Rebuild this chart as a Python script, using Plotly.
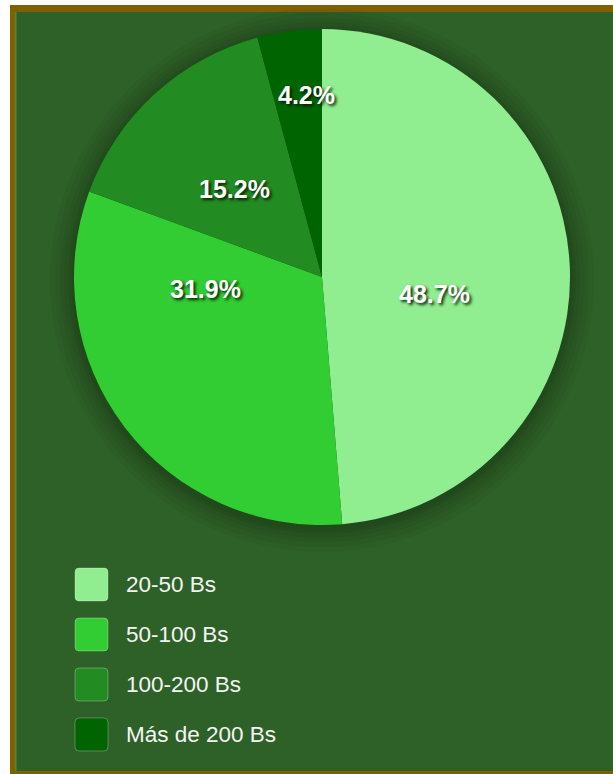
import math
import plotly.graph_objects as go

# Price ranges and their share of the total (percent)
categories = ["20-50 Bs", "50-100 Bs", "100-200 Bs", "Más de 200 Bs"]
shares = [48.7, 31.9, 15.2, 4.2]
colors = ["#90EE90", "#32CD32", "#228B22", "#006400"]

# Label placement per slice: angular nudge from the slice middle (deg) and radius fraction
label_nudge_deg = [10.9, 31.4, -2.2, 2.6]
label_radius_frac = [0.457, 0.474, 0.499, 0.737]

W, H = 613, 774
BG = "#2e6128"
FRAME = "#806000"
FONT = "Liberation Sans, Arial, sans-serif"


def px(x):
    return x / W


def py(y):
    return 1 - y / H


# Pie geometry in page pixels
cx, cy, R = 322, 277, 248

fig = go.Figure()
fig.add_trace(go.Pie(
    labels=categories,
    values=shares,
    sort=False,
    direction="clockwise",
    rotation=0,
    marker=dict(colors=colors, line=dict(width=0)),
    textinfo="none",
    hoverinfo="label+percent",
    showlegend=False,
    domain=dict(x=[px(cx - R), px(cx + R)], y=[py(cy + R), py(cy - R)]),
))

shapes = []
# Outer frame: white page edge, brown border, green panel with a thin inner highlight
shapes.append(dict(type="rect", xref="paper", yref="paper", x0=px(10), x1=px(W + 5),
                   y0=py(H + 5), y1=py(5), fillcolor=FRAME, line=dict(width=0), layer="below"))
shapes.append(dict(type="rect", xref="paper", yref="paper", x0=px(15), x1=px(W + 5),
                   y0=py(771), y1=py(12), fillcolor="#4f8a3c", line=dict(width=0), layer="below"))
shapes.append(dict(type="rect", xref="paper", yref="paper", x0=px(16.5), x1=px(W + 5),
                   y0=py(771), y1=py(12), fillcolor=BG, line=dict(width=0), layer="below"))

# Soft shadow around the pie
for grow in [24, 19, 14, 10, 6, 3]:
    shapes.append(dict(type="circle", xref="paper", yref="paper",
                       x0=px(cx - R - grow), x1=px(cx + R + grow),
                       y0=py(cy + 3 + R + grow), y1=py(cy + 3 - R - grow),
                       fillcolor="rgba(0,0,0,0.04)", line=dict(width=0), layer="below"))

annotations = []

# Percentage labels on the slices, placed from the slice angles
total = sum(shares)
start = 0.0
for val, nudge, frac in zip(shares, label_nudge_deg, label_radius_frac):
    sweep = 360.0 * val / total
    ang = math.radians(start + sweep / 2 + nudge)
    start += sweep
    lx = cx + frac * R * math.sin(ang)
    ly = cy - frac * R * math.cos(ang)
    annotations.append(dict(xref="paper", yref="paper", x=px(lx), y=py(ly),
                            xanchor="center", yanchor="middle", showarrow=False,
                            text=f"{val:.1f}%",
                            font=dict(family=FONT, size=25, color="white", weight="bold",
                                      shadow="2px 2px 3px rgba(5,25,0,0.95)")))


def rounded_rect(x0, y0, x1, y1, r):
    pts = [
        f"M{px(x0 + r)},{py(y0)}",
        f"L{px(x1 - r)},{py(y0)}",
        f"Q{px(x1)},{py(y0)} {px(x1)},{py(y0 + r)}",
        f"L{px(x1)},{py(y1 - r)}",
        f"Q{px(x1)},{py(y1)} {px(x1 - r)},{py(y1)}",
        f"L{px(x0 + r)},{py(y1)}",
        f"Q{px(x0)},{py(y1)} {px(x0)},{py(y1 - r)}",
        f"L{px(x0)},{py(y0 + r)}",
        f"Q{px(x0)},{py(y0)} {px(x0 + r)},{py(y0)}",
        "Z",
    ]
    return " ".join(pts)


# Legend: rounded swatches with labels
leg_x, leg_y0, leg_step, sw = 75, 568, 50, 33
for i, (name, col) in enumerate(zip(categories, colors)):
    top = leg_y0 + i * leg_step
    shapes.append(dict(type="path", xref="paper", yref="paper",
                       path=rounded_rect(leg_x, top, leg_x + sw, top + sw, 4),
                       fillcolor=col, line=dict(color="rgba(255,255,255,0.28)", width=1),
                       layer="below"))
    annotations.append(dict(xref="paper", yref="paper", x=px(124), y=py(top + sw / 2),
                            xanchor="left", yanchor="middle", showarrow=False, text=name,
                            font=dict(family=FONT, size=22.5, color="#f4f4f4")))

fig.update_layout(
    width=W, height=H,
    margin=dict(l=0, r=0, t=0, b=0),
    paper_bgcolor="white",
    plot_bgcolor="rgba(0,0,0,0)",
    shapes=shapes,
    annotations=annotations,
    showlegend=False,
)

fig.write_html("out.html")
